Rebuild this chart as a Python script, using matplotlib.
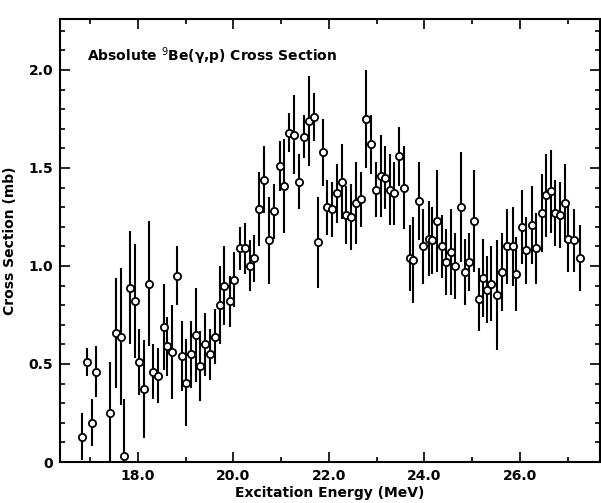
import matplotlib
matplotlib.use("Agg")
import matplotlib.pyplot as plt
from matplotlib.ticker import MultipleLocator, FixedLocator

energy = [16.83, 16.94, 17.04, 17.13, 17.42, 17.55, 17.64, 17.72, 17.84, 17.95,
          18.03, 18.12, 18.24, 18.31, 18.42, 18.54, 18.61, 18.72, 18.82, 18.92,
          19.00, 19.12, 19.22, 19.30, 19.41, 19.51, 19.62, 19.72, 19.81, 19.93,
          20.02, 20.14, 20.25, 20.34, 20.44, 20.54, 20.65, 20.75, 20.85, 20.97,
          21.06, 21.17, 21.27, 21.38, 21.48, 21.59, 21.69, 21.77, 21.87, 21.97,
          22.06, 22.17, 22.27, 22.36, 22.47, 22.57, 22.68, 22.78, 22.89, 22.98,
          23.09, 23.18, 23.28, 23.37, 23.48, 23.58, 23.70, 23.77, 23.88, 23.97,
          24.09, 24.16, 24.26, 24.37, 24.46, 24.56, 24.65, 24.76, 24.86, 24.94,
          25.04, 25.14, 25.22, 25.31, 25.40, 25.53, 25.62, 25.74, 25.85, 25.92,
          26.04, 26.13, 26.25, 26.34, 26.46, 26.55, 26.65, 26.74, 26.84, 26.95,
          27.00, 27.14, 27.26]

cross_section = [0.13, 0.51, 0.20, 0.46, 0.25, 0.66, 0.64, 0.03, 0.89, 0.82,
                 0.51, 0.37, 0.91, 0.46, 0.44, 0.69, 0.59, 0.56, 0.95, 0.54,
                 0.405, 0.55, 0.65, 0.49, 0.60, 0.55, 0.64, 0.80, 0.90, 0.82,
                 0.93, 1.09, 1.09, 1.00, 1.04, 1.29, 1.44, 1.13, 1.28, 1.51,
                 1.41, 1.68, 1.67, 1.43, 1.66, 1.74, 1.76, 1.12, 1.58, 1.30,
                 1.29, 1.37, 1.43, 1.26, 1.25, 1.32, 1.34, 1.75, 1.62, 1.39,
                 1.46, 1.45, 1.39, 1.37, 1.56, 1.40, 1.04, 1.03, 1.33, 1.10,
                 1.14, 1.13, 1.23, 1.10, 1.02, 1.07, 1.00, 1.30, 0.97, 1.02,
                 1.23, 0.83, 0.94, 0.88, 0.91, 0.85, 0.97, 1.10, 1.10, 0.96,
                 1.20, 1.08, 1.21, 1.09, 1.27, 1.36, 1.38, 1.27, 1.26, 1.32,
                 1.14, 1.13, 1.04]

errors = [0.12, 0.07, 0.12, 0.13, 0.26, 0.28, 0.35, 0.29, 0.29, 0.29,
          0.17, 0.25, 0.32, 0.14, 0.14, 0.22, 0.15, 0.24, 0.15, 0.18,
          0.22, 0.17, 0.24, 0.18, 0.16, 0.13, 0.14, 0.20, 0.20, 0.13,
          0.14, 0.11, 0.13, 0.13, 0.12, 0.19, 0.17, 0.22, 0.14, 0.13,
          0.24, 0.10, 0.20, 0.14, 0.11, 0.23, 0.12, 0.23, 0.17, 0.14,
          0.14, 0.15, 0.19, 0.15, 0.17, 0.21, 0.14, 0.25, 0.15, 0.14,
          0.21, 0.16, 0.18, 0.16, 0.15, 0.21, 0.17, 0.22, 0.20, 0.19,
          0.19, 0.17, 0.26, 0.16, 0.17, 0.22, 0.17, 0.28, 0.17, 0.15,
          0.26, 0.16, 0.20, 0.17, 0.19, 0.28, 0.20, 0.19, 0.20, 0.19,
          0.19, 0.17, 0.20, 0.18, 0.20, 0.21, 0.21, 0.17, 0.17, 0.20,
          0.17, 0.16, 0.17]

x_ticks = [18.0, 20.0, 22.0, 24.0, 26.0]
x_tick_labels = ["18.0", "20.0", "22.0", "24.0", "26.0"]
y_ticks = [0.0, 0.5, 1.0, 1.5, 2.0]
y_tick_labels = ["0", "0.5", "1.0", "1.5", "2.0"]

plt.rcParams['font.family'] = ['DejaVu Sans']

fig = plt.figure(figsize=(6.01, 5.03), dpi=100)
W, H = 601, 503
ax = fig.add_axes([60 / W, (H - 462) / H, 539.5 / W, (462 - 19) / H])

ax.errorbar(energy, cross_section, yerr=errors, fmt='o', ms=5.2,
            mfc='white', mec='black', mew=1.3, ecolor='black',
            elinewidth=1.5, capsize=0, zorder=3)

ax.set_xlim(16.37, 27.67)
ax.set_ylim(0, 2.26)

ax.xaxis.set_major_locator(FixedLocator(x_ticks))
ax.set_xticklabels(x_tick_labels)
ax.xaxis.set_minor_locator(MultipleLocator(1.0))
ax.yaxis.set_major_locator(FixedLocator(y_ticks))
ax.set_yticklabels(y_tick_labels)
ax.yaxis.set_minor_locator(MultipleLocator(0.1))

ax.tick_params(which='both', direction='in', top=True, right=True,
               labelsize=10, width=1.2)
ax.tick_params(which='major', length=7, pad=5)
ax.tick_params(which='minor', length=3.5)
for lab in ax.get_xticklabels() + ax.get_yticklabels():
    lab.set_fontweight('bold')

for sp in ax.spines.values():
    sp.set_linewidth(1.5)

ax.set_xlabel("Excitation Energy (MeV)", fontsize=10, fontweight='bold', labelpad=2)
ax.set_ylabel("Cross Section (mb)", fontsize=10, fontweight='bold', labelpad=8)

ax.text(0.05, 0.915, r"Absolute $^{9}$Be(γ,p) Cross Section", transform=ax.transAxes,
        fontsize=10, fontweight='bold', ha='left', va='center')

fig.savefig("out.png", dpi=100)
